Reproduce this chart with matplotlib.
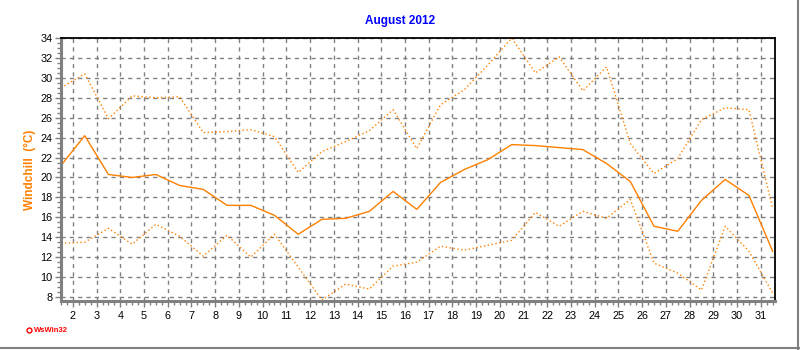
import numpy as np
import matplotlib
matplotlib.use("Agg")
from matplotlib import pyplot as plt
from matplotlib.ticker import MultipleLocator

plt.rcParams['font.family'] = ['Liberation Sans', 'DejaVu Sans']

# daily windchill values for August 2012 (points drawn at noon of each day)
days = np.arange(1, 32)
wc_max = [29.0, 30.4, 25.9, 28.2, 28.0, 28.1, 24.5, 24.6, 24.8, 24.1,
          20.5, 22.6, 23.6, 24.7, 26.8, 22.9, 27.3, 28.8, 31.3, 34.0,
          30.5, 32.1, 28.7, 31.1, 23.4, 20.4, 21.9, 25.8, 27.0, 26.8,
          16.9]
wc_avg = [21.2, 24.2, 20.3, 20.0, 20.3, 19.2, 18.8, 17.2, 17.2, 16.2,
          14.3, 15.8, 15.9, 16.6, 18.6, 16.8, 19.5, 20.8, 21.8, 23.3,
          23.2, 23.0, 22.8, 21.4, 19.6, 15.1, 14.6, 17.7, 19.8, 18.2,
          12.6]
wc_min = [13.4, 13.5, 14.9, 13.3, 15.3, 14.1, 12.1, 14.2, 12.0, 14.3,
          11.0, 7.7, 9.3, 8.8, 11.1, 11.5, 13.1, 12.7, 13.2, 13.7,
          16.5, 15.1, 16.6, 15.9, 17.8, 11.4, 10.4, 8.7, 15.1, 12.6,
          8.4]
tick_days = list(range(2, 32))
title = "August 2012"
ylabel = "Windchill  (°C)"

orange = '#ff8000'
grey = '#808080'

fig = plt.figure(figsize=(8, 3.5), dpi=100)
ax = fig.add_axes([0.07625, 0.14, 0.8925, 0.7514])

x = days + 0.5
ax.plot(x, wc_max, color=orange, lw=1.0, linestyle=(0, (1, 1.8)))
ax.plot(x, wc_avg, color=orange, lw=1.0)
ax.plot(x, wc_min, color=orange, lw=1.0, linestyle=(0, (1, 1.8)))

ax.set_xlim(1.5, 31.6)
ax.set_ylim(7.6, 34)
ax.set_xticks(tick_days)
ax.set_yticks(range(8, 35, 2))
ax.xaxis.set_minor_locator(MultipleLocator(0.25))
ax.yaxis.set_minor_locator(MultipleLocator(0.5))
ax.grid(True, which='major', color=grey, linestyle=(0, (3, 3)), lw=1)

ax.tick_params(axis='both', which='both', direction='out', color=grey,
               labelsize=7.8, width=1)
ax.tick_params(axis='both', which='major', length=4)
ax.tick_params(axis='both', which='minor', length=3)
ax.tick_params(axis='x', pad=3)
ax.tick_params(axis='y', pad=2)

for side in ('left', 'bottom'):
    ax.spines[side].set_color(grey)
    ax.spines[side].set_linewidth(2.2)
for side in ('top', 'right'):
    ax.spines[side].set_color('black')
    ax.spines[side].set_linewidth(1.3)

ax.set_ylabel(ylabel, color=orange, fontsize=8.5, fontweight='bold', labelpad=3)
fig.text(0.5, 0.94, title, color='#0000ff', fontsize=8.5, fontweight='bold',
         ha='center', va='center')

# program stamp
fig.text(0.042, 0.057, "WsWin32", color='red', fontsize=5.5, fontweight='bold',
         ha='left', va='center')
fig.add_artist(plt.Line2D([0.036], [0.057], marker='o', markersize=3.5,
                          markerfacecolor='white', markeredgecolor='red',
                          markeredgewidth=1, transform=fig.transFigure))

# sunken frame on the right and bottom edge
fig.add_artist(plt.Line2D([0.997, 0.997], [0.0, 1.0], color=grey, lw=1.5,
                          transform=fig.transFigure))
fig.add_artist(plt.Line2D([0.0, 1.0], [0.006, 0.006], color=grey, lw=1.5,
                          transform=fig.transFigure))

fig.savefig('out.png', dpi=100)
